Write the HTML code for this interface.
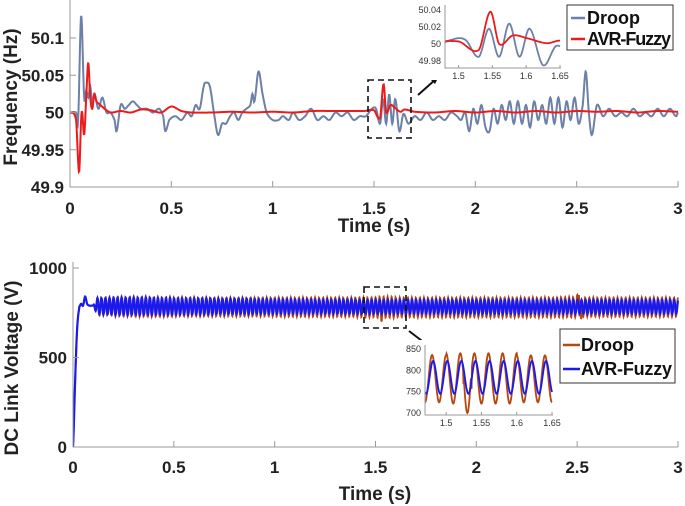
<!DOCTYPE html>
<html><head><meta charset="utf-8"><style>
html,body{margin:0;padding:0;background:#fff;}
svg{display:block;font-family:"Liberation Sans",Arial,sans-serif;}
.tk{font-weight:bold;font-size:17px;fill:#222;}
.st{font-size:9px;fill:#333;}
.ti{font-weight:bold;font-size:19px;fill:#222;}
.lg{font-weight:bold;font-size:18px;fill:#111;}
</style></head><body>
<svg id="c" width="685" height="506" viewBox="0 0 685 506"></svg>
<script>
// ---- Frequency data ----
const freqDroopT=[0,0.03,0.04,0.055,0.07,0.08,0.09,0.1,0.11,0.12,0.14,0.16,0.18,0.2,0.22,0.23,0.25,0.27,0.29,0.31,0.33,0.35,0.38,0.41,0.44,0.46,0.47,0.49,0.52,0.55,0.58,0.6,0.62,0.64,0.66,0.67,0.69,0.71,0.73,0.75,0.77,0.79,0.81,0.83,0.85,0.87,0.89,0.9,0.91,0.93,0.95,0.97,1.0,1.03,1.05,1.08,1.1,1.13,1.16,1.19,1.22,1.25,1.28,1.31,1.34,1.37,1.4,1.43,1.46,1.49,1.51,1.53,1.545,1.56,1.575,1.59,1.605,1.625,1.645,1.67,1.7,1.73,1.76,1.79,1.82,1.85,1.88,1.91,1.93,1.95,1.97,1.99,2.01,2.03,2.05,2.07,2.09,2.11,2.13,2.15,2.17,2.19,2.21,2.23,2.25,2.27,2.29,2.31,2.33,2.35,2.37,2.39,2.41,2.43,2.45,2.47,2.49,2.51,2.53,2.545,2.56,2.575,2.6,2.63,2.66,2.69,2.72,2.75,2.78,2.81,2.84,2.87,2.9,2.93,2.96,2.99,3.0];
const freqDroopV=[50,50,49.99,50.13,50.02,50.03,50.02,50.035,50.01,50.025,50.005,50.02,50.0,50.0,49.99,49.975,50.01,50.005,50.01,50.015,50.01,50.005,50.005,50.0,50.005,49.995,49.975,49.99,49.995,49.99,50.0,49.995,50.01,50.005,50.035,50.04,50.035,50.0,49.97,49.985,49.985,49.995,50.0,49.99,50.0,50.005,50.01,50.025,50.015,50.055,50.025,50.0,49.99,49.99,49.995,49.99,50.0,49.99,49.995,50.005,49.99,49.995,49.99,50.0,49.995,50.0,49.99,49.995,49.995,50.005,50.005,49.985,50.018,49.985,50.024,49.985,50.018,49.975,49.998,49.985,49.995,49.99,50.0,49.99,49.995,49.99,50.0,49.995,49.99,50.0,49.975,50.005,49.985,50.01,49.98,49.975,50.005,49.985,50.01,49.99,50.015,49.985,50.015,49.985,50.01,49.98,50.015,49.99,50.01,49.985,50.02,49.985,50.02,49.98,50.015,49.99,50.02,49.985,50.01,50.055,50.0,49.97,50.01,49.995,50.005,49.995,50.0,49.995,50.005,49.995,50.0,49.995,50.005,49.995,50.005,49.995,50.0];
const freqFuzzyT=[0,0.03,0.045,0.055,0.06,0.07,0.08,0.09,0.1,0.11,0.12,0.13,0.15,0.17,0.2,0.25,0.3,0.35,0.4,0.45,0.5,0.55,0.6,0.7,0.8,0.9,1.0,1.1,1.2,1.3,1.4,1.45,1.5,1.53,1.547,1.56,1.58,1.6,1.63,1.65,1.7,1.8,1.9,2.0,2.1,2.2,2.3,2.4,2.5,2.6,2.7,2.8,2.9,3.0];
const freqFuzzyV=[50,49.99,49.92,49.99,50.0,49.97,50.02,50.067,50.02,50.005,50.025,50.015,50.01,50.005,50.0,50.002,50.0,50.004,50.003,50.0,50.008,50.002,50.0,50.0,50.001,50.0,50.001,50.0,50.002,50.002,50.002,50.002,50.003,49.993,50.038,50.0,50.01,50.007,50.001,50.004,50.001,50.0,50.002,50.0,50.002,50.0,50.002,50.0,50.002,50.001,50.002,50.0,50.002,50.001];
const freqYTicks=[49.9,49.95,50,50.05,50.1];
const freqYLabels=["49.9","49.95","50","50.05","50.1"];
const timeTicks=[0,0.5,1,1.5,2,2.5,3];
const timeLabels=["0","0.5","1","1.5","2","2.5","3"];
const inset1YTicks=[49.98,50,50.02,50.04];
const inset1YLabels=["49.98","50","50.02","50.04"];
const insetXTicks=[1.5,1.55,1.6,1.65];
const insetXLabels=["1.5","1.55","1.6","1.65"];
// ---- DC link data (envelopes per 0.1 s segment, 50 Hz ripple) ----
const dcSegT=[0.1,0.2,0.3,0.4,0.5,0.6,0.7,0.8,0.9,1.0,1.1,1.2,1.3,1.4,1.5,1.6,1.7,1.8,1.9,2.0,2.1,2.2,2.3,2.4,2.5,2.6,2.7,2.8,2.9,3.0];
const dcDroopMax=[815,835,838,838,836,835,834,834,834,835,835,835,835,835,836,840,835,835,835,835,835,835,835,835,838,835,835,835,835,835];
const dcDroopMin=[745,735,730,728,728,730,730,730,730,730,728,728,728,728,725,722,725,725,725,725,725,725,725,725,725,728,728,728,728,728];
const dcFuzzyMax=[815,832,834,834,832,830,830,828,828,826,825,824,823,823,822,822,822,822,822,822,822,822,822,822,822,822,822,822,822,822];
const dcFuzzyMin=[755,742,740,740,740,742,742,744,744,745,745,745,745,745,745,745,745,745,745,745,745,745,745,745,745,745,745,745,745,745];
const dcStartT=[0,0.01,0.02,0.03,0.035,0.04,0.05,0.06,0.07,0.08,0.1];
const dcStartV=[0,350,650,770,790,800,790,840,800,790,790];
const dcEventT=[1.53,2.505,2.52];
const dcEventDroop=[700,850,715];
const dcYTicks=[0,500,1000];
const dcYLabels=["0","500","1000"];
const inset2YTicks=[700,750,800,850];
const inset2YLabels=["700","750","800","850"];

const NS="http://www.w3.org/2000/svg";
const svg=document.getElementById('c');
function mk(tag,attrs,parent){const e=document.createElementNS(NS,tag);for(const k in attrs)e.setAttribute(k,attrs[k]);(parent||svg).appendChild(e);return e;}
function lin(d0,d1,r0,r1){return v=>r0+(v-d0)/(d1-d0)*(r1-r0);}
function interp(T,V,t){
  let i=0;while(i<T.length-2&&T[i+1]<t)i++;
  const t0=T[i],t1=T[i+1];const u=Math.max(0,Math.min(1,(t-t0)/(t1-t0)));
  const p0=V[Math.max(0,i-1)],p1=V[i],p2=V[i+1],p3=V[Math.min(V.length-1,i+2)];
  return 0.5*((2*p1)+(-p0+p2)*u+(2*p0-5*p1+4*p2-p3)*u*u+(-p0+3*p1-3*p2+p3)*u*u*u);
}
function linePath(T,V,x,y,ta,tb,step){let d="";for(let t=ta;t<=tb+1e-9;t+=step){d+=(d?"L":"M")+x(t).toFixed(2)+","+y(interp(T,V,t)).toFixed(2);}return d;}
function segIdx(t){let i=Math.floor(t*10-1e-9);return Math.max(0,Math.min(dcSegT.length-1,i));}
function dcVal(which,t){
  if(t<=0.1){return interp(dcStartT,dcStartV,t);}
  const i=segIdx(t);
  const mx=which==='d'?dcDroopMax[i]:dcFuzzyMax[i], mn=which==='d'?dcDroopMin[i]:dcFuzzyMin[i];
  const ph=which==='d'?0:0.0015;
  const s=Math.cos(2*Math.PI*50*(t-1.48-ph));
  let v=(mx+mn)/2+(mx-mn)/2*s;
  if(which==='d'){for(let k=0;k<dcEventT.length;k++){if(Math.abs(t-dcEventT[k])<0.006){v=(mx+mn)/2+(dcEventDroop[k]-(mx+mn)/2)*Math.abs(s);}}}
  if(t<0.12){const w=(t-0.1)/0.02;v=790*(1-w)+v*w;}
  return v;
}
function dcPath(which,x,y,ta,tb,step){let d="";for(let t=ta;t<=tb+1e-9;t+=step){d+=(d?"L":"M")+x(t).toFixed(2)+","+y(dcVal(which,t)).toFixed(2);}return d;}

// ===== TOP CHART =====
const X1=lin(0,3,70,678), Y1=lin(49.9,50.1,187,38);
const g1=mk('g',{});
mk('defs',{}).innerHTML='<clipPath id="cp1"><rect x="70" y="0" width="609" height="187"/></clipPath><clipPath id="ci1"><rect x="445" y="5" width="116" height="63"/></clipPath><clipPath id="ci2"><rect x="425" y="343" width="128" height="72"/></clipPath><clipPath id="cp2"><rect x="73" y="262" width="606" height="186"/></clipPath>';
const dp=mk('path',{d:linePath(freqDroopT,freqDroopV,X1,Y1,0,3,0.002),fill:'none',stroke:'#6c80a8','stroke-width':2,'clip-path':'url(#cp1)'},g1);

const fp=mk('path',{d:linePath(freqFuzzyT,freqFuzzyV,X1,Y1,0,3,0.002),fill:'none',stroke:'#ee1a1a','stroke-width':2,'clip-path':'url(#cp1)'},g1);

mk('path',{d:'M70,0V187H678',fill:'none',stroke:'#999','stroke-width':1},g1);
timeTicks.forEach((t,i)=>{mk('line',{x1:X1(t),x2:X1(t),y1:187,y2:181,stroke:'#999'},g1);const tx=mk('text',{x:X1(t),y:214,'text-anchor':'middle',class:'tk'},g1);tx.textContent=timeLabels[i];});
freqYTicks.forEach((v,i)=>{mk('line',{x1:70,x2:76,y1:Y1(v),y2:Y1(v),stroke:'#999'},g1);const tx=mk('text',{x:64,y:Y1(v)+6,'text-anchor':'end',class:'tk'},g1);tx.textContent=freqYLabels[i];});
let t=mk('text',{x:374,y:232,'text-anchor':'middle',class:'ti'},g1);t.textContent='Time (s)';
t=mk('text',{x:0,y:0,'text-anchor':'middle',class:'ti',transform:'translate(17,97) rotate(-90)'},g1);t.textContent='Frequency (Hz)';
mk('rect',{x:368,y:80,width:43,height:58,fill:'none',stroke:'#111','stroke-width':1.6,'stroke-dasharray':'6,4'},g1);
mk('line',{x1:418,y1:95,x2:436,y2:79,stroke:'#111','stroke-width':2},g1);
mk('path',{d:'M439,76 L430,79 L435,84Z',fill:'#111'},g1);
// inset 1
const XI1=lin(1.48,1.65,445,560), YI1=lin(49.98,50.04,61,10);
const gi1=mk('g',{});
mk('rect',{x:430,y:0,width:135,height:80,fill:'#fff'},gi1);
mk('path',{d:linePath(freqDroopT,freqDroopV,XI1,YI1,1.48,1.65,0.001),fill:'none',stroke:'#6c80a8','stroke-width':1.8,'clip-path':'url(#ci1)'},gi1);
mk('path',{d:linePath(freqFuzzyT,freqFuzzyV,XI1,YI1,1.48,1.65,0.001),fill:'none',stroke:'#ee1a1a','stroke-width':1.8,'clip-path':'url(#ci1)'},gi1);
mk('path',{d:'M445,5V68H561',fill:'none',stroke:'#999'},gi1);
inset1YTicks.forEach((v,i)=>{const tx=mk('text',{x:441,y:YI1(v)+3,'text-anchor':'end',class:'st'},gi1);tx.textContent=inset1YLabels[i];});
insetXTicks.forEach((v,i)=>{mk('line',{x1:XI1(v),x2:XI1(v),y1:68,y2:65,stroke:'#999'},gi1);const tx=mk('text',{x:XI1(v),y:79,'text-anchor':'middle',class:'st'},gi1);tx.textContent=insetXLabels[i];});
// legend 1
const lg1=mk('g',{});
mk('rect',{x:567,y:5,width:106,height:45,fill:'#fff',stroke:'#333','stroke-width':1},lg1);
mk('line',{x1:571,x2:585,y1:18,y2:18,stroke:'#6c80a8','stroke-width':2.5},lg1);
mk('line',{x1:571,x2:585,y1:39,y2:39,stroke:'#ee1a1a','stroke-width':2.5},lg1);
t=mk('text',{x:587,y:24,class:'lg'},lg1);t.textContent='Droop';
t=mk('text',{x:587,y:45,class:'lg',textLength:84},lg1);t.textContent='AVR-Fuzzy';

// ===== BOTTOM CHART =====
const X2=lin(0,3,73,678), Y2=lin(0,1000,447,268);
const g2=mk('g',{});
const dd=mk('path',{d:dcPath('d',X2,Y2,0,3,0.0015),fill:'none',stroke:'#b5470f','stroke-width':1.8,'clip-path':'url(#cp2)'},g2);

const df=mk('path',{d:dcPath('f',X2,Y2,0,3,0.0015),fill:'none',stroke:'#1a1aee','stroke-width':2.2,'clip-path':'url(#cp2)'},g2);

mk('path',{d:'M73,262V447H678',fill:'none',stroke:'#999'},g2);
timeTicks.forEach((tt,i)=>{mk('line',{x1:X2(tt),x2:X2(tt),y1:447,y2:441,stroke:'#999'},g2);const tx=mk('text',{x:X2(tt),y:473,'text-anchor':'middle',class:'tk'},g2);tx.textContent=timeLabels[i];});
dcYTicks.forEach((v,i)=>{mk('line',{x1:73,x2:79,y1:Y2(v),y2:Y2(v),stroke:'#999'},g2);const tx=mk('text',{x:67,y:Y2(v)+6,'text-anchor':'end',class:'tk'},g2);tx.textContent=dcYLabels[i];});
t=mk('text',{x:375,y:500,'text-anchor':'middle',class:'ti'},g2);t.textContent='Time (s)';
t=mk('text',{x:0,y:0,'text-anchor':'middle',class:'ti',transform:'translate(18,368) rotate(-90)'},g2);t.textContent='DC Link Voltage (V)';
mk('rect',{x:364,y:287,width:42,height:41,fill:'none',stroke:'#111','stroke-width':1.6,'stroke-dasharray':'6,4'},g2);
mk('line',{x1:409,y1:331,x2:426,y2:344,stroke:'#111','stroke-width':2},g2);
mk('path',{d:'M430,347 L421,345 L425,340Z',fill:'#111'},g2);
// inset 2
const XI2=lin(1.47,1.65,425,552), YI2=lin(700,850,413,349);
const gi2=mk('g',{});
mk('rect',{x:405,y:340,width:152,height:88,fill:'#fff'},gi2);
mk('path',{d:dcPath('d',XI2,YI2,1.47,1.65,0.0005),fill:'none',stroke:'#b5470f','stroke-width':1.8,'clip-path':'url(#ci2)'},gi2);
mk('path',{d:dcPath('f',XI2,YI2,1.47,1.65,0.0005),fill:'none',stroke:'#1a1aee','stroke-width':1.8,'clip-path':'url(#ci2)'},gi2);
mk('path',{d:'M425,345V415H553',fill:'none',stroke:'#999'},gi2);
inset2YTicks.forEach((v,i)=>{const tx=mk('text',{x:421,y:YI2(v)+3,'text-anchor':'end',class:'st'},gi2);tx.textContent=inset2YLabels[i];});
insetXTicks.forEach((v,i)=>{mk('line',{x1:XI2(v),x2:XI2(v),y1:415,y2:412,stroke:'#999'},gi2);const tx=mk('text',{x:XI2(v),y:426,'text-anchor':'middle',class:'st'},gi2);tx.textContent=insetXLabels[i];});
// legend 2
const lg2=mk('g',{});
mk('rect',{x:560,y:329,width:115,height:54,fill:'#fff',stroke:'#333'},lg2);
mk('line',{x1:563,x2:580,y1:345,y2:345,stroke:'#b5470f','stroke-width':2.5},lg2);
mk('line',{x1:563,x2:580,y1:369,y2:369,stroke:'#1a1aee','stroke-width':2.5},lg2);
t=mk('text',{x:581,y:351,class:'lg'},lg2);t.textContent='Droop';
t=mk('text',{x:581,y:375,class:'lg',textLength:91},lg2);t.textContent='AVR-Fuzzy';
</script>
</body></html>
